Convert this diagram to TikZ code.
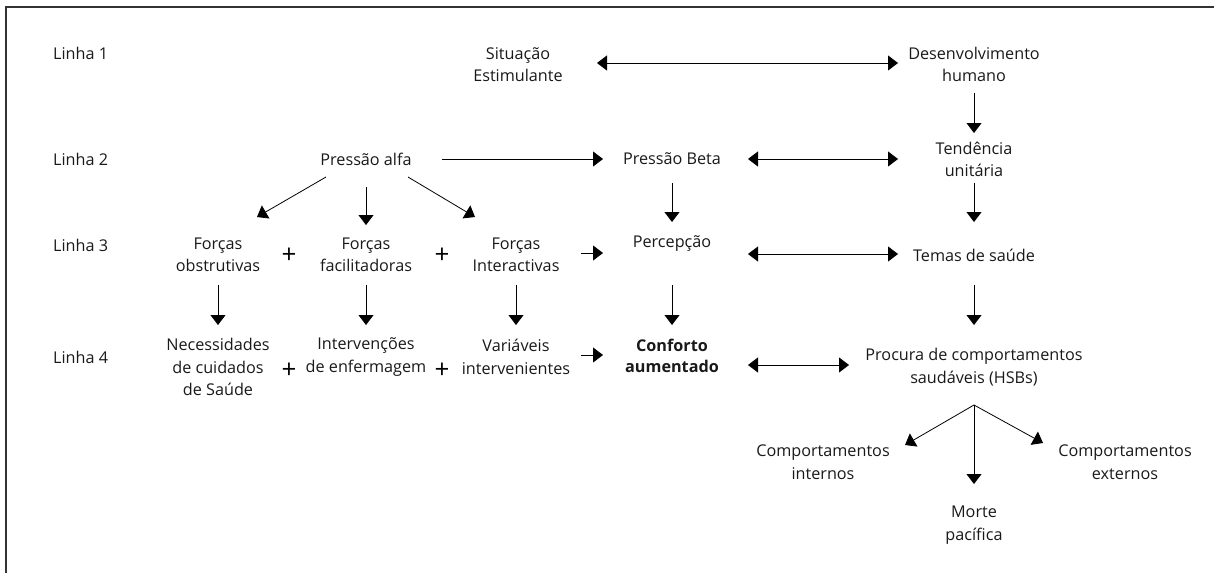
\documentclass[tikz,border=0pt]{standalone}
\usepackage{fontspec}
\setmainfont{Open Sans}
\usetikzlibrary{arrows.meta,calc}
\begin{document}
\begin{tikzpicture}[x=1pt,y=-1pt,
  txt/.style={inner sep=0pt,align=center,font=\fontsize{16.2}{22.5}\selectfont,text=black!90},
  lab/.style={txt,anchor=west},
  plussign/.style={inner sep=0pt,font=\fontsize{26}{26}\selectfont},
  arr/.style={line width=0.8pt,-{Triangle[length=10pt,width=15pt]}},
  dbl/.style={line width=0.8pt,{Triangle[length=10pt,width=15pt]}-{Triangle[length=10pt,width=15pt]}},
  frame/.style={line width=1.3pt,draw=black!80}]
\useasboundingbox (0,0) rectangle (1214,573);
\draw[frame] (6,573) -- (6,7) -- (1214,7);
% row labels
\node[lab] (l1) at (53,53) {Linha 1};
\node[lab] (l2) at (53,159) {Linha 2};
\node[lab] (l3) at (53,245) {Linha 3};
\node[lab] (l4) at (53,357) {Linha 4};
% nodes
\node[txt] (sit) at (518,64.5) {Situação\\Estimulante};
\node[txt] (des) at (974,64.5) {Desenvolvimento\\humano};
\node[txt] (alfa) at (366,159) {Pressão alfa};
\node[txt] (beta) at (672,159) {Pressão Beta};
\node[txt] (ten) at (974,159.5) {Tendência\\unitária};
\node[txt] (fo) at (218,255) {Forças\\obstrutivas};
\node[txt] (ff) at (366,255) {Forças\\facilitadoras};
\node[txt] (fi) at (516,255) {Forças\\Interactivas};
\node[plussign] (p1) at (289,256) {+};
\node[plussign] (p2) at (442,256) {+};
\node[txt] (perc) at (672,244) {Percepção};
\node[txt] (temas) at (974,255) {Temas de saúde};
\node[txt] (nec) at (218,367) {Necessidades\\de cuidados\\de Saúde};
\node[txt] (int) at (366,357) {Intervenções\\de enfermagem};
\node[txt] (var) at (516,357) {Variáveis\\intervenientes};
\node[plussign] (p3) at (289,371) {+};
\node[plussign] (p4) at (442,371) {+};
\node[txt,font=\fontsize{16.2}{21}\selectfont\bfseries] (conf) at (672,356) {Conforto\\aumentado};
\node[txt] (proc) at (974,367) {Procura de comportamentos\\saudáveis (HSBs)};
\node[txt] (ci) at (823,462) {Comportamentos\\internos};
\node[txt] (ce) at (1125,462) {Comportamentos\\externos};
\node[txt] (morte) at (974,525) {Morte\\pacífica};
\coordinate (hsb) at ($(proc)+(0,38)$);
% connectors
\draw[dbl] ($(sit)+(79,-1.5)$) -- ($(des)+(-76,-1.5)$);
\draw[arr] ($(des)+(0,28.5)$) -- ($(ten)+(0,-26.5)$);
\draw[arr] ($(alfa)+(76,0)$) -- ($(beta)+(-69,0)$);
\draw[dbl] ($(beta)+(76,0)$) -- ($(ten)+(-76,-0.5)$);
\draw[arr] ($(alfa)+(-40,18)$) -- ($(fo)+(39,-38)$);
\draw[arr] ($(alfa)+(0,28)$) -- ($(ff)+(0,-30)$);
\draw[arr] ($(alfa)+(42,18)$) -- ($(fi)+(-41,-38)$);
\draw[arr] ($(beta)+(0,24)$) -- ($(perc)+(0,-22)$);
\draw[arr] ($(ten)+(0,23.5)$) -- ($(temas)+(0,-33)$);
\draw[arr] ($(fi)+(65,-2)$) -- ($(perc)+(-69,9)$);
\draw[dbl] ($(perc)+(76,10)$) -- ($(temas)+(-76,-1)$);
\draw[arr] ($(fo)+(0,30)$) -- ($(nec)+(0,-42)$);
\draw[arr] ($(ff)+(0,30)$) -- ($(int)+(0,-32)$);
\draw[arr] ($(fi)+(0,30)$) -- ($(var)+(0,-32)$);
\draw[arr] ($(perc)+(0,41)$) -- ($(conf)+(0,-31)$);
\draw[arr] ($(temas)+(0,30)$) -- ($(proc)+(0,-42)$);
\draw[arr] ($(var)+(65,-2)$) -- ($(conf)+(-69,-1)$);
\draw[dbl] ($(conf)+(76,9)$) -- ($(proc)+(-125,-2)$);
\draw[arr] (hsb) -- ($(ci)+(82,-17)$);
\draw[arr] (hsb) -- ($(morte)+(0,-41)$);
\draw[arr] (hsb) -- ($(ce)+(-82,-19)$);
\end{tikzpicture}
\end{document}
